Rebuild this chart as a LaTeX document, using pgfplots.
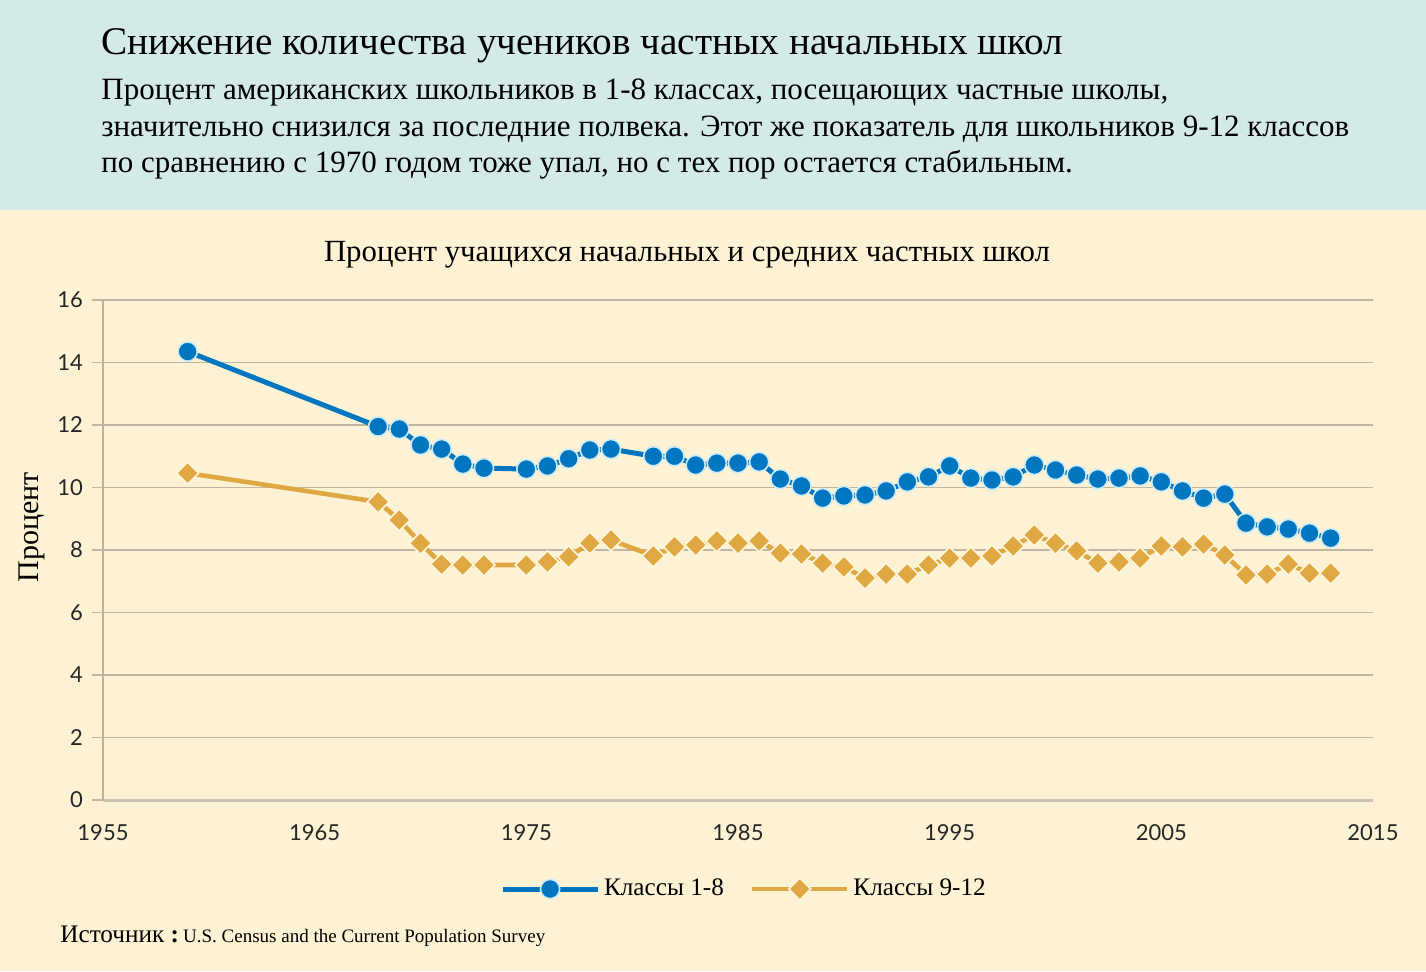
\documentclass[border=0pt]{standalone}
\usepackage{fontspec}
\setmainfont{Liberation Serif}
\newfontfamily\tickfont{Lato}
\usepackage{pgfplots}
\pgfplotsset{compat=1.18}
\usepackage{pgfplotstable}

\definecolor{bandbg}{RGB}{212,234,232}
\definecolor{creambg}{RGB}{253,243,212}
\definecolor{blueline}{RGB}{0,118,192}
\definecolor{goldline}{RGB}{224,168,66}
\definecolor{gridc}{RGB}{192,183,162}
\definecolor{yaxisc}{RGB}{192,178,152}
\definecolor{xaxisc}{RGB}{204,197,180}

% year, grades 1-8, grades 9-12 (percent in private schools)
\pgfplotstableread{
year  lower  upper
1959  14.35  10.46
1968  11.95  9.54
1969  11.87  8.96
1970  11.36  8.22
1971  11.23  7.55
1972  10.75  7.52
1973  10.62  7.52
1975  10.59  7.52
1976  10.69  7.62
1977  10.92  7.78
1978  11.20  8.22
1979  11.23  8.32
1981  11.00  7.81
1982  11.00  8.10
1983  10.72  8.16
1984  10.78  8.29
1985  10.78  8.22
1986  10.82  8.29
1987  10.27  7.90
1988  10.05  7.87
1989  9.66   7.58
1990  9.73   7.46
1991  9.76   7.10
1992  9.89   7.23
1993  10.18  7.23
1994  10.34  7.52
1995  10.69  7.74
1996  10.30  7.74
1997  10.24  7.81
1998  10.34  8.13
1999  10.72  8.48
2000  10.56  8.22
2001  10.40  7.97
2002  10.27  7.58
2003  10.30  7.62
2004  10.37  7.74
2005  10.18  8.13
2006  9.89   8.10
2007  9.66   8.19
2008  9.79   7.84
2009  8.86   7.20
2010  8.74   7.23
2011  8.67   7.55
2012  8.54   7.26
2013  8.38   7.26
}\schooldata

\begin{document}
\begin{tikzpicture}
\fill[creambg] (0,0) rectangle (713pt,380.5pt);
\fill[bandbg] (0,380.5pt) rectangle (713pt,485.5pt);

\node[anchor=base west, inner sep=0] at (50.5pt,458pt)
  {\fontsize{19.6}{19.6}\selectfont Снижение количества учеников частных начальных школ};
\node[anchor=base west, inner sep=0] at (50.5pt,435.5pt)
  {\fontsize{15.5}{15.5}\selectfont Процент американских школьников в 1-8 классах, посещающих частные школы,};
\node[anchor=base west, inner sep=0] at (50.5pt,417pt)
  {\fontsize{15.5}{15.5}\selectfont значительно снизился за последние полвека. Этот же показатель для школьников 9-12 классов};
\node[anchor=base west, inner sep=0] at (50.5pt,399pt)
  {\fontsize{15.5}{15.5}\selectfont по сравнению с 1970 годом тоже упал, но с тех пор остается стабильным.};

\node[anchor=base, inner sep=0] at (343.5pt,354.5pt)
  {\fontsize{15.4}{15.4}\selectfont Процент учащихся начальных и средних частных школ};

\node[rotate=90, inner sep=0] at (16pt,222pt)
  {\fontsize{15}{15}\selectfont Процент};

\node[anchor=base west, inner sep=0] at (30pt,14.5pt)
  {\fontsize{12.6}{12.6}\selectfont Источник\ \textbf{:}\,\fontsize{9.5}{9.5}\selectfont U.S. Census and the Current Population Survey};

\begin{axis}[
    at={(51.5pt,85.5pt)}, anchor=south west,
    scale only axis, width=635pt, height=250pt,
    xmin=1955, xmax=2015, ymin=0, ymax=16,
    xtick={1955,1965,...,2015}, ytick={0,2,...,16},
    axis x line=bottom, axis y line=left,
    x axis line style={-, xaxisc, line width=1.5pt},
    y axis line style={-, yaxisc, line width=1.4pt},
    ymajorgrids, grid style={gridc, line width=0.55pt},
    xtick style={draw=none},
    ytick style={gridc, line width=0.55pt},
    tick align=outside, major tick length=5.5pt,
    /pgf/number format/assume math mode=true,
    /pgf/number format/1000 sep={},
    ticklabel style={font=\tickfont\fontsize{11}{11}\selectfont, text=black!85},
    xticklabel style={yshift=-3pt},
    yticklabel style={xshift=-1pt},
    legend columns=2,
    legend style={at={(0.5055,-0.178)}, anchor=center, draw=none, fill=none,
        font=\fontsize{12.6}{12.6}\selectfont,
        /tikz/every even column/.append style={column sep=11pt}},
    legend image code/.code={
        \draw[#1, mark repeat=2, mark phase=2]
        plot coordinates {(0pt,0pt) (23.75pt,0pt) (47.5pt,0pt)};},
    clip=false,
]
\addplot[blueline, line width=2.5pt, mark=*, mark size=4.8pt,
    mark options={fill=blueline, draw={rgb,255:red,205;green,235;blue,245}, line width=0.8pt}]
    table[x=year, y=lower] {\schooldata};
\addlegendentry{Классы 1-8}
\addplot[goldline, line width=2.3pt, mark=square*, mark size=3.9pt,
    mark options={rotate=45, fill=goldline, draw={rgb,255:red,255;green,246;blue,220}, line width=0.8pt}]
    table[x=year, y=upper] {\schooldata};
\addlegendentry{Классы 9-12}
\end{axis}
\pgfresetboundingbox
\useasboundingbox (0,0) rectangle (713pt,485.5pt);
\end{tikzpicture}
\end{document}
